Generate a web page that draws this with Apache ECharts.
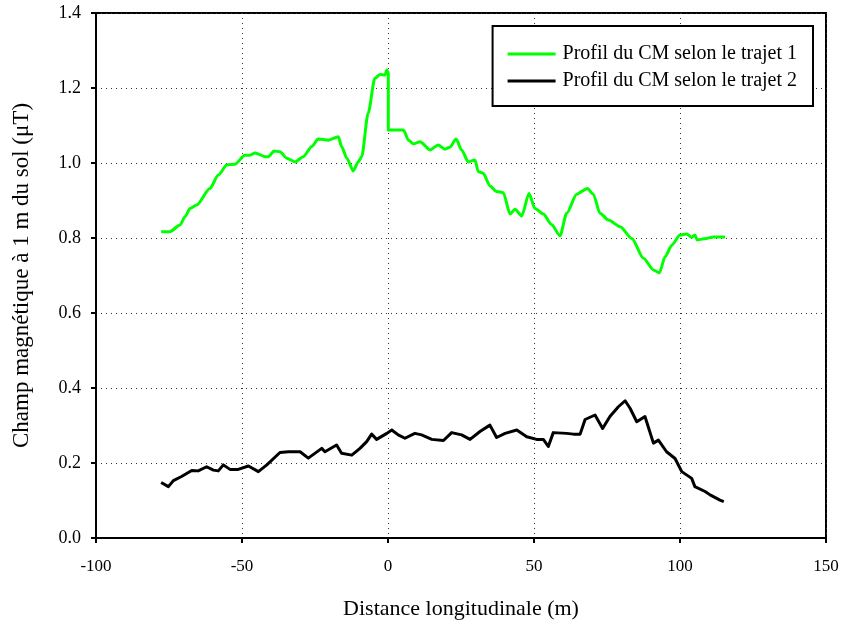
<!DOCTYPE html>
<html>
<head>
<meta charset="utf-8">
<script src="https://cdn.jsdelivr.net/npm/echarts@6/dist/echarts.min.js"></script>
<style>
  html, body { margin: 0; padding: 0; background: #fff; }
  #chart { width: 846px; height: 631px; }
</style>
</head>
<body>
<div id="chart"></div>
<script>
// trajet 1 (green)
const dist1 = [-77.7, -74.7, -71.2, -69.5, -67.8, -65.5, -61, -58.1, -55.2, -52.4, -49, -47.3, -45.5, -42.1, -41, -39, -37, -34.7, -31.8, -29, -26.1, -23.9, -20.4, -17, -15.9, -14.1, -11.9, -10.2, -9, -6.8, -4.5, -2.7, -1, -0.4, 0.1, 0.1, 5.3, 7, 8.7, 11, 14.4, 17.2, 19.5, 21.2, 23.3, 25.2, 27.5, 29.8, 30.9, 32.6, 34.9, 37.2, 39.5, 41.8, 43.5, 45.8, 48.3, 50.3, 53.2, 56, 58.9, 61.2, 64.6, 68.3, 70.3, 72.6, 75.5, 79.5, 83.5, 87.5, 90.9, 92.9, 94.9, 97.2, 100, 102.3, 104, 105.1, 105.9, 109.1, 111.4, 115.4];
const champ1 = [0.817, 0.817, 0.835, 0.857, 0.879, 0.888, 0.932, 0.968, 0.995, 0.997, 1.021, 1.021, 1.027, 1.017, 1.017, 1.032, 1.030, 1.013, 1.003, 1.017, 1.044, 1.064, 1.061, 1.070, 1.044, 1.013, 0.979, 1.003, 1.017, 1.133, 1.226, 1.236, 1.235, 1.248, 1.240, 1.088, 1.088, 1.061, 1.051, 1.057, 1.035, 1.048, 1.037, 1.042, 1.064, 1.035, 1.003, 1.008, 0.977, 0.973, 0.939, 0.924, 0.921, 0.864, 0.877, 0.859, 0.919, 0.879, 0.864, 0.836, 0.806, 0.866, 0.917, 0.932, 0.917, 0.866, 0.848, 0.830, 0.799, 0.746, 0.715, 0.707, 0.750, 0.781, 0.808, 0.811, 0.802, 0.808, 0.795, 0.799, 0.803, 0.803];

// trajet 2 (black)
const dist2 = [-77.7, -75.2, -73.5, -70.7, -67.2, -65, -62.1, -59.8, -58.1, -56.4, -54.1, -51.3, -47.8, -44.4, -41.5, -37, -34.1, -30.1, -27.3, -22.7, -21.6, -17.6, -15.9, -12.4, -9.6, -7.3, -5.6, -3.9, -0.4, 1.3, 3.5, 5.8, 9.2, 11.5, 15, 19, 21.8, 25.2, 28.1, 31.5, 34.9, 37.2, 40.1, 44.1, 47.5, 50.9, 53.2, 54.9, 56.6, 61.2, 63.5, 65.8, 67.5, 70.9, 73.5, 76, 78.9, 81.2, 82.9, 85.2, 88, 90.9, 92.6, 95.4, 98.3, 100.6, 104, 105.1, 108.6, 110.3, 113.7, 115];
const champ2 = [0.148, 0.137, 0.153, 0.164, 0.180, 0.179, 0.190, 0.181, 0.179, 0.195, 0.183, 0.183, 0.192, 0.177, 0.195, 0.228, 0.230, 0.230, 0.213, 0.239, 0.230, 0.248, 0.226, 0.221, 0.239, 0.257, 0.277, 0.263, 0.279, 0.288, 0.275, 0.266, 0.279, 0.275, 0.263, 0.260, 0.281, 0.275, 0.263, 0.284, 0.301, 0.268, 0.279, 0.288, 0.270, 0.263, 0.263, 0.244, 0.281, 0.279, 0.277, 0.277, 0.316, 0.328, 0.292, 0.324, 0.350, 0.366, 0.346, 0.310, 0.324, 0.253, 0.261, 0.230, 0.212, 0.177, 0.159, 0.137, 0.124, 0.115, 0.101, 0.097];

const seriesNames = ['Profil du CM selon le trajet 1', 'Profil du CM selon le trajet 2'];
const font = 'Liberation Serif';

const zip = (xs, ys) => xs.map((x, i) => [x, ys[i]]);

const chart = echarts.init(document.getElementById('chart'));
chart.setOption({
  backgroundColor: '#fff',
  animation: false,
  textStyle: { fontFamily: font },
  grid: {
    left: 96, right: 20, top: 13, bottom: 93,
    show: true, borderColor: '#000', borderWidth: 2, backgroundColor: 'transparent'
  },
  legend: {
    right: 33, top: 26,
    orient: 'vertical',
    itemWidth: 48, itemHeight: 3, itemGap: 7,
    padding: [18, 16, 15, 15],
    borderColor: '#000', borderWidth: 2,
    backgroundColor: '#fff',
    icon: 'rect',
    textStyle: { fontFamily: font, fontSize: 20, color: '#000', padding: [0, 0, 0, 2] },
    data: seriesNames
  },
  xAxis: {
    type: 'value', min: -100, max: 150, interval: 50,
    name: 'Distance longitudinale (m)', nameLocation: 'middle', nameGap: 60,
    nameTextStyle: { fontFamily: font, fontSize: 22, color: '#000' },
    axisLine: { onZero: false, lineStyle: { color: '#000', width: 2 } },
    axisTick: { inside: false, length: 5, lineStyle: { color: '#000', width: 2 } },
    axisLabel: { fontFamily: font, fontSize: 17, color: '#000', margin: 20 },
    splitLine: { show: true, lineStyle: { color: '#333', type: [1, 4], width: 1 } }
  },
  yAxis: {
    type: 'value', min: 0, max: 1.4, interval: 0.2,
    name: 'Champ magnétique à 1 m du sol (μT)', nameLocation: 'middle', nameGap: 63,
    nameTextStyle: { fontFamily: font, fontSize: 23, color: '#000' },
    axisLine: { onZero: false, lineStyle: { color: '#000', width: 2 } },
    axisTick: { inside: false, length: 5, lineStyle: { color: '#000', width: 2 } },
    axisLabel: { fontFamily: font, fontSize: 18, color: '#000', margin: 15, formatter: v => v.toFixed(1) },
    splitLine: { show: true, lineStyle: { color: '#333', type: [1, 4], width: 1 } }
  },
  series: [
    {
      name: seriesNames[0], type: 'line', data: zip(dist1, champ1),
      showSymbol: false, smooth: 0.25, smoothMonotone: 'x',
      lineStyle: { color: '#00ff00', width: 3, join: 'round' },
      itemStyle: { color: '#00ff00' }
    },
    {
      name: seriesNames[1], type: 'line', data: zip(dist2, champ2),
      showSymbol: false, smooth: false,
      lineStyle: { color: '#000', width: 3, join: 'round' },
      itemStyle: { color: '#000' }
    }
  ]
});
</script>
</body>
</html>
